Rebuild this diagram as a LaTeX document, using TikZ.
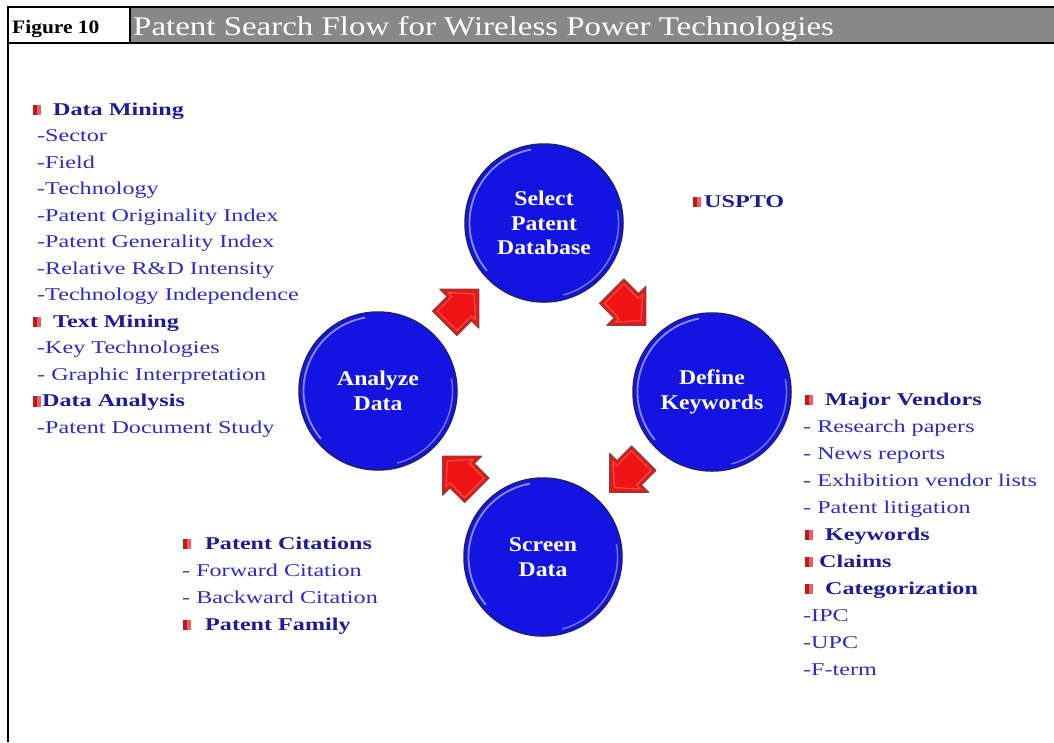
\documentclass[tikz,border=0pt]{standalone}
\usepackage{fontspec}
\setmainfont{Liberation Serif}
\newfontfamily\bodyfont[FakeStretch=1.34]{Liberation Serif}
\newfontfamily\circfont[FakeStretch=1.13]{Liberation Serif}
\newfontfamily\titlefont[FakeStretch=1.22]{Liberation Serif}
\newfontfamily\fignumfont[FakeStretch=1.13]{Liberation Serif}
\usetikzlibrary{calc}

\definecolor{headgray}{RGB}{136,136,136}
\definecolor{headblue}{RGB}{28,28,150}
\definecolor{itemblue}{RGB}{44,44,196}
\definecolor{circblue}{RGB}{20,20,226}
\definecolor{circedge}{RGB}{30,30,110}
\definecolor{glossblue}{RGB}{160,160,255}
\definecolor{bulred}{RGB}{225,30,30}
\definecolor{arrred}{RGB}{238,20,20}
\definecolor{arredge}{RGB}{120,70,70}

% red square bullet with a light right half
\newcommand\bul{\textcolor{bulred!85!black}{\rule{4pt}{10.5pt}}\textcolor{bulred!70!white}{\rule{4pt}{10.5pt}}}
% heading line: bullet, gap, bold heading
\newcommand\hd[2][12pt]{\bul\hspace*{#1}\textbf{\color{headblue}#2}}
% ordinary list line
\newcommand\itm[2][4pt]{\hspace*{#1}\textcolor{itemblue}{#2}}

\tikzset{
  listline/.style={anchor=base west, inner sep=0pt, font=\bodyfont\fontsize{18}{20}\selectfont},
  stepcircle/.style={circle, minimum size=158pt, inner sep=0pt, fill=circblue,
    draw=circedge, line width=1.5pt, text=white, align=center,
    font=\circfont\bfseries\fontsize{21}{24.5}\selectfont},
  blockarr/.pic={
    \filldraw[fill=arrred, draw=arredge, line width=1.1pt, line join=round]
      (-20,-15) -- (-2,-15) -- (-2,-24) -- (22,0) -- (-2,24) -- (-2,15) -- (-20,15) -- cycle;
    \draw[white, opacity=0.25, line width=1.2pt, line join=round]
      (-17,-12) -- (1,-12) -- (1,-17) -- (16,0) -- (1,17) -- (1,12) -- (-17,12) -- cycle;
  }
}

\begin{document}
\begin{tikzpicture}[x=1pt, y=-1pt]
\useasboundingbox (0,0) rectangle (1054,742);
\fill[white] (0,0) rectangle (1054,742);

% header band
\fill[headgray] (130,8) rectangle (1054,42);
\draw[line width=2.2pt] (7.8,7) -- (1054,7);
\draw[line width=2.2pt] (7.8,43) -- (1054,43);
\draw[line width=2pt] (7.8,6) -- (7.8,742);
\draw[line width=2pt] (130,7) -- (130,43);
\node[anchor=base west, inner sep=0pt, font=\fignumfont\bfseries\fontsize{19}{21}\selectfont] (fignum) at (12,33) {Figure 10};
\node[anchor=base west, inner sep=0pt, text=white, font=\titlefont\fontsize{27}{30}\selectfont] (title) at (133,35) {Patent Search Flow for Wireless Power Technologies};

% process circles
\node[stepcircle] (sel) at (544,223) {Select\\Patent\\Database};
\node[stepcircle] (def) at (712,392) {Define\\Keywords};
\node[stepcircle] (scr) at (543,557) {Screen\\Data};
\node[stepcircle] (ana) at (378,391) {Analyze\\Data};

% glossy rims
\foreach \c in {sel,def,scr,ana}{
  \begin{scope}[shift={(\c.center)}, yscale=-1]
    \draw[glossblue, line width=1.8pt, opacity=0.85] (100:74.5) arc (100:220:74.5);
    \draw[glossblue, line width=1.4pt, opacity=0.7] (-75:74.5) arc (-75:10:74.5);
  \end{scope}
}

% block arrows between the steps
\pic[rotate=45, scale=1.15]   at ($(ana)!0.5!(sel)$) {blockarr};
\pic[rotate=-45, scale=1.15]  at ($(sel)!0.5!(def)$) {blockarr};
\pic[rotate=-135, scale=1.15] at ($(def)!0.5!(scr)$) {blockarr};
\pic[rotate=135, scale=1.15]  at ($(scr)!0.5!(ana)$) {blockarr};

% left list
\foreach \t [count=\i] in {
  {\hd{Data Mining}},
  {\itm{-Sector}},
  {\itm{-Field}},
  {\itm{-Technology}},
  {\itm{-Patent Originality Index}},
  {\itm{-Patent Generality Index}},
  {\itm{-Relative R\&D Intensity}},
  {\itm{-Technology Independence}},
  {\hd{Text Mining}},
  {\itm{-Key Technologies}},
  {\itm{- Graphic Interpretation}},
  {\hd[1pt]{Data Analysis}},
  {\itm{-Patent Document Study}}}
  \node[listline] (lft\i) at (33,{115+26.5*(\i-1)}) {\t};

% USPTO
\node[listline] (uspto) at (693,207) {\hd[3pt]{USPTO}};

% right list
\foreach \t [count=\i] in {
  {\hd{Major Vendors}},
  {\itm[-2pt]{- Research papers}},
  {\itm[-2pt]{- News reports}},
  {\itm[-2pt]{- Exhibition vendor lists}},
  {\itm[-2pt]{- Patent litigation}},
  {\hd{Keywords}},
  {\hd[6pt]{Claims}},
  {\hd{Categorization}},
  {\itm[-2pt]{-IPC}},
  {\itm[-2pt]{-UPC}},
  {\itm[-2pt]{-F-term}}}
  \node[listline] (rgt\i) at (805,{405+27*(\i-1)}) {\t};

% bottom list
\foreach \t [count=\i] in {
  {\hd[14pt]{Patent Citations}},
  {\itm[-1pt]{- Forward Citation}},
  {\itm[-1pt]{- Backward Citation}},
  {\hd[14pt]{Patent Family}}}
  \node[listline] (bot\i) at (183,{549+27*(\i-1)}) {\t};
\end{tikzpicture}
\end{document}
